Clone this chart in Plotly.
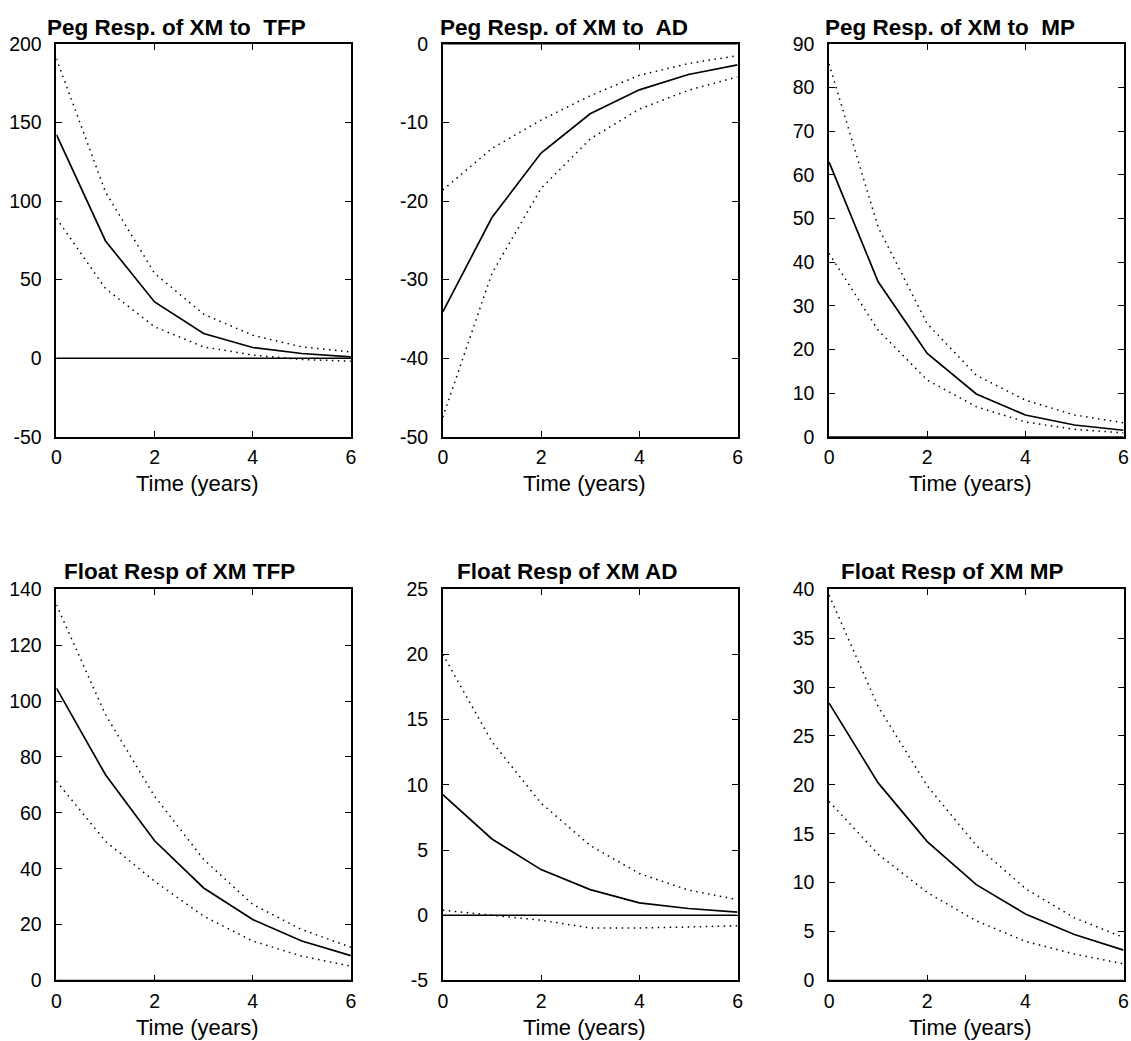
import plotly.graph_objects as go

# ---------------- data ----------------
t = [0, 1, 2, 3, 4, 5, 6]

titles = [
    "Peg Resp. of XM to\u00a0 TFP",
    "Peg Resp. of XM to\u00a0 AD",
    "Peg Resp. of XM to\u00a0 MP",
    "Float Resp of XM TFP",
    "Float Resp of XM AD",
    "Float Resp of XM MP",
]

peg_tfp_mid = [142.2, 74.6, 35.8, 15.7, 6.8, 3.0, 0.8]
peg_tfp_hi = [190.5, 105.7, 54.0, 28.0, 14.6, 7.2, 4.0]
peg_tfp_lo = [89.0, 44.3, 20.0, 7.2, 2.0, -0.8, -1.9]

peg_ad_mid = [-34.1, -22.1, -13.9, -8.9, -5.85, -3.9, -2.67]
peg_ad_hi = [-18.6, -13.3, -9.7, -6.6, -4.0, -2.5, -1.5]
peg_ad_lo = [-47.5, -29.2, -18.4, -12.1, -8.3, -5.9, -4.2]

peg_mp_mid = [62.9, 35.5, 19.1, 9.8, 5.0, 2.7, 1.5]
peg_mp_hi = [85.4, 48.0, 25.9, 14.1, 8.4, 5.0, 3.2]
peg_mp_lo = [42.0, 24.4, 13.0, 6.9, 3.4, 1.7, 0.9]

flt_tfp_mid = [104.6, 73.6, 50.0, 33.1, 21.8, 14.1, 8.9]
flt_tfp_hi = [134.4, 95.1, 65.9, 43.3, 27.2, 18.2, 11.9]
flt_tfp_lo = [71.3, 49.8, 35.5, 23.0, 14.1, 8.7, 5.1]

flt_ad_mid = [9.25, 5.85, 3.5, 1.97, 0.95, 0.52, 0.24]
flt_ad_hi = [20.0, 13.3, 8.6, 5.35, 3.2, 1.93, 1.2]
flt_ad_lo = [0.39, 0.0, -0.38, -0.97, -0.97, -0.9, -0.8]

flt_mp_mid = [28.36, 20.2, 14.2, 9.8, 6.8, 4.7, 3.1]
flt_mp_hi = [39.4, 28.0, 19.9, 13.8, 9.4, 6.4, 4.4]
flt_mp_lo = [18.3, 12.9, 9.0, 6.1, 4.0, 2.7, 1.7]

zero_line = [0, 0]
zero_x = [0, 6]

y_tick_values = [
    [-50, 0, 50, 100, 150, 200],
    [-50, -40, -30, -20, -10, 0],
    [0, 10, 20, 30, 40, 50, 60, 70, 80, 90],
    [0, 20, 40, 60, 80, 100, 120, 140],
    [-5, 0, 5, 10, 15, 20, 25],
    [0, 5, 10, 15, 20, 25, 30, 35, 40],
]
x_ticks = [0, 2, 4, 6]
x_label = "Time (years)"

panels = [
    (peg_tfp_mid, peg_tfp_hi, peg_tfp_lo),
    (peg_ad_mid, peg_ad_hi, peg_ad_lo),
    (peg_mp_mid, peg_mp_hi, peg_mp_lo),
    (flt_tfp_mid, flt_tfp_hi, flt_tfp_lo),
    (flt_ad_mid, flt_ad_hi, flt_ad_lo),
    (flt_mp_mid, flt_mp_hi, flt_mp_lo),
]

# ---------------- layout geometry (pixels) ----------------
W, H = 1131, 1041
KX, KY = 0.992, 0.98   # compensation for observed rendering squeeze


def px(x):
    return W / 2 + (x - W / 2) / KX


def py(y):
    return H / 2 + (y - H / 2) / KY


col_px = [(56, 350.7), (442.7, 737.7), (829.3, 1124)]
row_px = [(43.3, 436.7), (589.3, 981)]
title_cx = [176, 564, 950, 179, 566.7, 952.5]
title_cy = [27, 572]
xlabel_cy = [483, 1028]

FONT = "Liberation Sans, Arial, Helvetica, sans-serif"

fig = go.Figure()
layout = dict(
    width=W, height=H,
    margin=dict(l=0, r=0, t=0, b=0),
    paper_bgcolor="white", plot_bgcolor="white",
    showlegend=False,
    font=dict(family=FONT, color="black", size=19),
    annotations=[],
)

for i, (mid, hi, lo) in enumerate(panels):
    r, c = divmod(i, 3)
    n = i + 1
    xa = "x" if n == 1 else f"x{n}"
    ya = "y" if n == 1 else f"y{n}"
    dash = dict(color="black", width=1.5, dash="1.5px,4.5px")
    fig.add_trace(go.Scatter(x=zero_x, y=zero_line, mode="lines",
                             line=dict(color="black", width=1.5), xaxis=xa, yaxis=ya))
    fig.add_trace(go.Scatter(x=t, y=hi, mode="lines", line=dash, xaxis=xa, yaxis=ya))
    fig.add_trace(go.Scatter(x=t, y=lo, mode="lines", line=dash, xaxis=xa, yaxis=ya))
    fig.add_trace(go.Scatter(x=t, y=mid, mode="lines",
                             line=dict(color="black", width=1.7), xaxis=xa, yaxis=ya))

    x0, x1 = px(col_px[c][0]), px(col_px[c][1])
    y0, y1 = py(row_px[r][0]), py(row_px[r][1])
    xdom = [max(0, x0 / W), min(1, x1 / W)]
    ydom = [max(0, 1 - y1 / H), min(1, 1 - y0 / H)]
    xkey = "xaxis" if n == 1 else f"xaxis{n}"
    ykey = "yaxis" if n == 1 else f"yaxis{n}"
    common = dict(showline=True, linecolor="black", linewidth=1.6, mirror="ticks",
                  ticks="inside", ticklen=6, tickwidth=1.2, tickcolor="black",
                  showgrid=False, zeroline=False,
                  tickfont=dict(family=FONT, size=19.5, color="black"))
    yv = y_tick_values[i]
    layout[xkey] = dict(domain=xdom, anchor=ya, range=[0, 6],
                        tickmode="array", tickvals=x_ticks,
                        ticktext=[str(v) for v in x_ticks],
                        ticklabelstandoff=2, **common)
    layout[ykey] = dict(domain=ydom, anchor=xa, range=[yv[0], yv[-1]],
                        tickmode="array", tickvals=yv,
                        ticktext=[str(v) for v in yv],
                        ticklabelstandoff=9, **common)
    layout["annotations"].append(dict(
        text=f"<b>{titles[i]}</b>", xref="paper", yref="paper",
        x=px(title_cx[i]) / W, y=1 - py(title_cy[r]) / H,
        xanchor="center", yanchor="middle",
        showarrow=False, font=dict(family=FONT, size=22.5, color="black")))
    layout["annotations"].append(dict(
        text=x_label, xref="paper", yref="paper",
        x=px((col_px[c][0] + col_px[c][1]) / 2 - 6) / W, y=1 - py(xlabel_cy[r]) / H,
        xanchor="center", yanchor="middle",
        showarrow=False, font=dict(family=FONT, size=22, color="black")))

fig.update_layout(**layout)
fig.write_html(
    "out.html",
    config={"displayModeBar": False},
    post_script="document.body.style.margin='0';document.body.style.overflow='hidden';",
)
